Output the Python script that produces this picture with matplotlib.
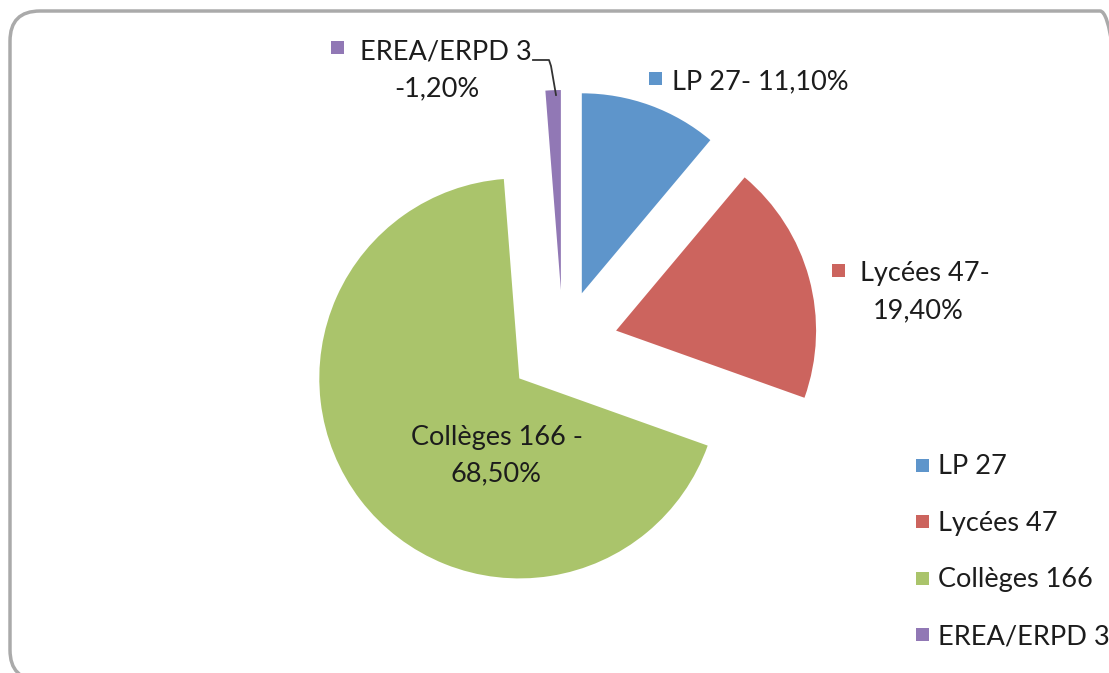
import matplotlib
matplotlib.use("Agg")
import matplotlib.pyplot as plt
from matplotlib.patches import FancyBboxPatch, Rectangle

categories = ["LP 27", "Lycées 47", "Collèges 166", "EREA/ERPD 3"]
values = [27, 47, 166, 3]
percent_labels = ["11,10%", "19,40%", "68,50%", "1,20%"]
colors = ["#5E95CB", "#CC645E", "#AAC46B", "#9178B5"]

W, H = 1109, 673
fig = plt.figure(figsize=(W / 100, H / 100), dpi=100)
ax = fig.add_axes([0, 0, 1, 1])

plt.rcParams["font.family"] = ["Lato", "DejaVu Sans"]
FS = 19.5
TXT = "#1c1c1c"

def Y(y):
    return H - y

ax.pie(values, colors=colors, startangle=90, counterclock=False,
       center=(563, Y(345)), radius=200, explode=[55] * 4,
       wedgeprops=dict(linewidth=0), frame=True)
ax.set_xlim(0, W)
ax.set_ylim(0, H)
ax.axis("off")

# border
border = FancyBboxPatch((10, Y(680)), 1120, 680 - 11,
                        boxstyle="round,pad=0,rounding_size=30",
                        facecolor="none", edgecolor="#aaaaaa", linewidth=2.5,
                        zorder=0)
ax.add_patch(border)

def marker(x, y, c):
    ax.add_patch(Rectangle((x - 6.5, Y(y) - 6.5), 13, 13, facecolor=c,
                           edgecolor="none", zorder=5))

# data labels
marker(337, 47, colors[3])
ax.text(360, Y(52), f"{categories[3]}", fontsize=FS, color=TXT,
        va="center", ha="left")
ax.text(437, Y(89), f"-{percent_labels[3]}", fontsize=FS, color=TXT,
        va="center", ha="center")
ax.plot([533, 549, 551, 556], [Y(60), Y(60), Y(66), Y(95)],
        color="#333333", lw=1.3, zorder=4)

marker(655, 78, colors[0])
ax.text(672, Y(82), f"{categories[0]}- {percent_labels[0]}", fontsize=FS,
        color=TXT, va="center", ha="left")

marker(838, 270, colors[1])
ax.text(860, Y(273), f"{categories[1]}-", fontsize=FS, color=TXT,
        va="center", ha="left")
ax.text(918, Y(311), percent_labels[1], fontsize=FS, color=TXT,
        va="center", ha="center")

ax.text(497, Y(437), f"{categories[2]} -", fontsize=FS, color=TXT,
        va="center", ha="center")
ax.text(496, Y(474), percent_labels[2], fontsize=FS, color=TXT,
        va="center", ha="center")

# legend
for i, (cat, c) in enumerate(zip(categories, colors)):
    yy = 467 + i * 56.5
    marker(922, yy - 2, c)
    ax.text(938, Y(yy), cat, fontsize=FS, color=TXT, va="center", ha="left")

fig.savefig("out.png", dpi=100)
